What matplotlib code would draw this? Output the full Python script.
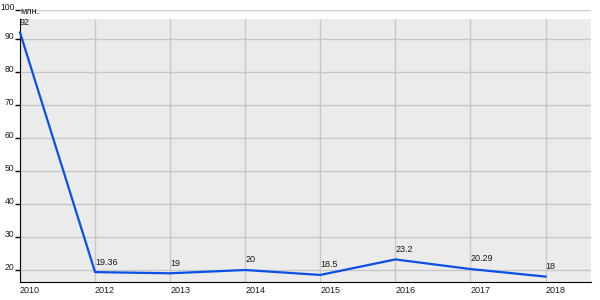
import matplotlib
matplotlib.use("Agg")
import matplotlib.pyplot as plt

plt.rcParams['font.family'] = ['Liberation Sans', 'DejaVu Sans']

years = ['2010', '2012', '2013', '2014', '2015', '2016', '2017', '2018']
values = [92, 19.36, 19, 20, 18.5, 23.2, 20.29, 18]
labels = ['92', '19.36', '19', '20', '18.5', '23.2', '20.29', '18']
yticks = [20, 30, 40, 50, 60, 70, 80, 90]

y_min, y_top, band_top = 16.36, 98.8, 96.0
fs = 6.5

fig = plt.figure(figsize=(6, 3), dpi=100)
ax = fig.add_axes([0.0333, 0.06, 0.951, 0.9067])
ax.set_facecolor('white')

x = list(range(len(years)))
ax.set_xlim(0, 7.6)
ax.set_ylim(y_min, y_top)

# серый фон области графика
ax.axhspan(y_min, band_top, color='#ebebeb', zorder=0, lw=0)

# сетка
for t in yticks + [y_top]:
    ax.axhline(t, color='#c8c8c8', lw=1, zorder=1)
ax.vlines(x, y_min, band_top, color='#c8c8c8', lw=1, zorder=1)

ax.plot(x, values, color='#0a4fe6', lw=1.6, zorder=3, clip_on=False)

for xi, v, s in zip(x, values, labels):
    ax.annotate(s, (xi, v), xytext=(0, 4), textcoords='offset points',
                ha='left', va='bottom', fontsize=fs, color='#1a1a1a')

ax.set_xticks(x)
ax.set_xticklabels(years, fontsize=fs, color='#1a1a1a', ha='left')
ax.tick_params(axis='x', length=0, pad=3)

ax.set_yticks(yticks + [y_top])
ax.set_yticklabels([str(t) for t in yticks] + ['100'], fontsize=6.2, color='#1a1a1a',
                   va='baseline')
ax.tick_params(axis='y', length=3.5, width=1, color='black', pad=0.5)

for side in ['top', 'right']:
    ax.spines[side].set_visible(False)
ax.spines['left'].set_bounds(y_min, band_top)
ax.spines['left'].set_color('black')
ax.spines['bottom'].set_color('black')

ax.text(0.0, y_top - 1.3, 'млн.', ha='left', va='baseline', fontsize=fs, color='#1a1a1a')

fig.savefig('out.png', dpi=100)
